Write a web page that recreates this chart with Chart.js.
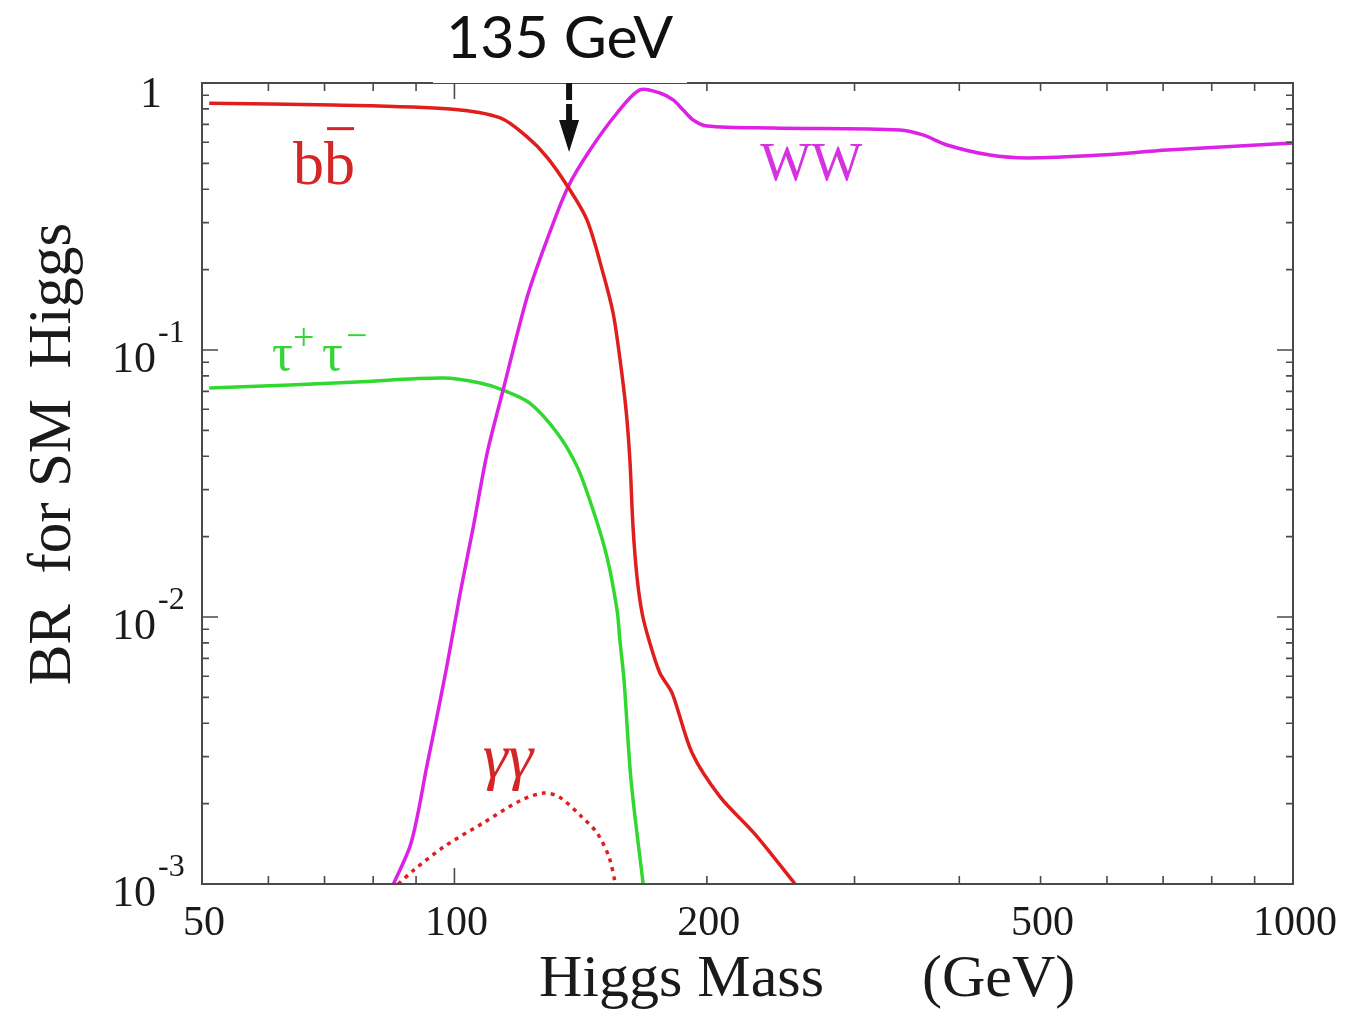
<!DOCTYPE html>
<html>
<head>
<meta charset="utf-8">
<title>BR for SM Higgs</title>
<script src="https://cdn.jsdelivr.net/npm/chart.js@4.4.1/dist/chart.umd.min.js"></script>
<style>
  html, body { margin: 0; padding: 0; background: #fff; }
  canvas { display: block; }
</style>
</head>
<body>
<canvas id="brChart" width="1356" height="1021"></canvas>
<script>
// Higgs mass (GeV) and branching ratio
const bbMass = [51, 71.7, 98.8, 113.4, 122.1, 128.9, 136.6, 143.9, 150.4, 154.6, 157.6, 160.2, 161.9, 163.3, 165.1, 167.4, 170.6, 175.8, 181.8, 192, 207.4, 227.7, 254.8];
const bbBR = [0.84, 0.827, 0.799, 0.74, 0.628, 0.528, 0.408, 0.307, 0.194, 0.1376, 0.0918, 0.0596, 0.0387, 0.0217, 0.0141, 0.01035, 0.0082, 0.00617, 0.00519, 0.0031, 0.00212, 0.00155, 0.001];

const wwMass = [84.6, 88.5, 90.5, 92.5, 94.6, 98.0, 101.6, 105.3, 109.4, 114.3, 122.1, 128.9, 136.6, 145.1, 156.3, 166.4, 175.8, 182.3, 187.4, 192.6, 200.1, 239.8, 340, 362, 386.7, 435, 482, 589, 708, 1000];
const wwBR = [0.001, 0.00138, 0.00185, 0.00267, 0.00377, 0.00661, 0.0123, 0.0217, 0.0411, 0.0708, 0.158, 0.258, 0.408, 0.561, 0.772, 0.942, 0.917, 0.864, 0.792, 0.727, 0.69, 0.678, 0.667, 0.639, 0.586, 0.537, 0.524, 0.537, 0.561, 0.596];

const tauMass = [51, 63.7, 76.5, 97.0, 107.3, 114.3, 123.0, 132.6, 140.1, 146.3, 152.0, 156.3, 157.5, 159.3, 162.4, 167.9];
const tauBR = [0.0721, 0.074, 0.0759, 0.0785, 0.0752, 0.0708, 0.0633, 0.0489, 0.0365, 0.0252, 0.0168, 0.0106, 0.0082, 0.00581, 0.00245, 0.001];

const ggMass = [85.7, 89.5, 97.2, 108.1, 120.1, 127.8, 133.3, 142.0, 148.0, 152.9, 155.6];
const ggBR = [0.001, 0.00113, 0.00138, 0.00169, 0.00206, 0.00219, 0.00212, 0.00178, 0.00155, 0.00126, 0.001];

// axis ticks
const xTicks = [50, 60, 70, 80, 90, 100, 200, 300, 400, 500, 600, 700, 800, 900, 1000];
const xMajor = [100, 1000];
const xTickLabels = [50, 100, 200, 500, 1000];
const yTicks = [
  0.001, 0.002, 0.003, 0.004, 0.005, 0.006, 0.007, 0.008, 0.009,
  0.01, 0.02, 0.03, 0.04, 0.05, 0.06, 0.07, 0.08, 0.09,
  0.1, 0.2, 0.3, 0.4, 0.5, 0.6, 0.7, 0.8, 0.9, 1
];
const yMajor = [0.001, 0.01, 0.1, 1];
const yTickExps = [0, -1, -2, -3];

const markedMass = 137; // where the "135 GeV" arrow sits on the axis

const RED = '#e01e1e';
const MAGENTA = '#dc22e4';
const GREEN = '#30d830';
const SERIF = '"Liberation Serif", "DejaVu Serif", serif';

const toPoints = (xs, ys) => xs.map((m, i) => ({ x: m, y: ys[i] }));

// frame with inward ticks on all four sides
const framePlugin = {
  id: 'frame',
  afterDatasetsDraw(chart) {
    const { ctx, chartArea: a, scales: { x, y } } = chart;
    ctx.save();
    ctx.strokeStyle = '#4a4a4a';
    ctx.lineWidth = 2;
    ctx.strokeRect(a.left, a.top, a.right - a.left, a.bottom - a.top);

    ctx.lineWidth = 1.6;
    ctx.beginPath();
    xTicks.forEach(v => {
      const px = x.getPixelForValue(v);
      const len = xMajor.includes(v) ? 16 : 8;
      ctx.moveTo(px, a.bottom); ctx.lineTo(px, a.bottom - len);
      ctx.moveTo(px, a.top); ctx.lineTo(px, a.top + len);
    });
    yTicks.forEach(v => {
      const py = y.getPixelForValue(v);
      const len = yMajor.includes(v) ? 16 : 7;
      ctx.moveTo(a.left, py); ctx.lineTo(a.left + len, py);
      ctx.moveTo(a.right, py); ctx.lineTo(a.right - len, py);
    });
    ctx.stroke();
    ctx.restore();
  }
};

// tick labels, axis titles, curve labels and the 135 GeV marker
const textPlugin = {
  id: 'texts',
  afterDraw(chart) {
    const { ctx, chartArea: a, scales: { x, y } } = chart;
    ctx.save();
    ctx.fillStyle = '#1a1a1a';
    ctx.textBaseline = 'alphabetic';

    // x tick labels
    ctx.font = '42px ' + SERIF;
    ctx.textAlign = 'center';
    xTickLabels.forEach(v => {
      ctx.fillText(String(v), x.getPixelForValue(v) + 2, a.bottom + 51);
    });

    // y tick labels: 1, 10^-1, 10^-2, 10^-3
    yTickExps.forEach(e => {
      const py = y.getPixelForValue(Math.pow(10, e));
      ctx.font = '44px ' + SERIF;
      ctx.textAlign = 'right';
      if (e === 0) {
        ctx.fillText('1', a.left - 40, py + 24);
        return;
      }
      ctx.fillText('10', a.left - 46, py + 22);
      ctx.font = '32px ' + SERIF;
      ctx.textAlign = 'left';
      ctx.fillText(String(e), a.left - 44, py - 8);
    });

    // axis titles
    ctx.font = '60px ' + SERIF;
    ctx.textAlign = 'left';
    ctx.fillText('Higgs Mass', 539, 996);
    ctx.fillText('(GeV)', 922, 996);

    ctx.save();
    ctx.translate(70, 454);
    ctx.rotate(-Math.PI / 2);
    ctx.textAlign = 'center';
    ctx.font = '61px ' + SERIF;
    ctx.fillText('BR  for SM  Higgs', 0, 0);
    ctx.restore();

    // curve labels
    ctx.textAlign = 'left';
    ctx.fillStyle = '#d42626';
    ctx.font = '62px ' + SERIF;
    const bx = x.getPixelForValue(64.2), by = y.getPixelForValue(0.418);
    ctx.fillText('bb', bx, by);
    const bw = ctx.measureText('b').width;
    ctx.fillRect(bx + bw + 3, by - 57, bw - 4, 3);

    ctx.font = 'italic 64px ' + SERIF;
    ctx.fillText('γγ', x.getPixelForValue(108.1), y.getPixelForValue(0.00252));

    ctx.fillStyle = '#d633e0';
    ctx.font = '54px ' + SERIF;
    ctx.fillText('WW', x.getPixelForValue(231.6), y.getPixelForValue(0.433));

    ctx.fillStyle = '#36d436';
    const tx = x.getPixelForValue(60.6), ty = y.getPixelForValue(0.084);
    ctx.font = '52px ' + SERIF;
    ctx.fillText('τ', tx, ty);
    ctx.fillText('τ', tx + 50, ty);
    ctx.font = '38px ' + SERIF;
    ctx.fillText('+', tx + 21, ty - 20);
    ctx.fillText('−', tx + 74, ty - 22);

    // label box over the top axis
    ctx.fillStyle = '#fff';
    ctx.fillRect(433, 0, 254, a.top);
    ctx.fillStyle = '#111';
    ctx.font = '59px Lato, "Open Sans", sans-serif';
    ctx.fillText('135 GeV', 446, 58);

    // dashed arrow down to the crossing
    const ax = x.getPixelForValue(markedMass);
    ctx.fillRect(ax - 3, a.top, 6, 17);
    ctx.fillRect(ax - 3, a.top + 21, 6, 17);
    ctx.beginPath();
    ctx.moveTo(ax - 10, a.top + 37);
    ctx.lineTo(ax + 10, a.top + 37);
    ctx.lineTo(ax, a.top + 69);
    ctx.closePath();
    ctx.fill();

    ctx.restore();
  }
};

new Chart(document.getElementById('brChart'), {
  type: 'scatter',
  data: {
    datasets: [
      { label: 'bb', data: toPoints(bbMass, bbBR), borderColor: RED, borderWidth: 3.5, showLine: true },
      { label: 'WW', data: toPoints(wwMass, wwBR), borderColor: MAGENTA, borderWidth: 3.5, showLine: true },
      { label: 'tautau', data: toPoints(tauMass, tauBR), borderColor: GREEN, borderWidth: 3.5, showLine: true },
      { label: 'gammagamma', data: toPoints(ggMass, ggBR), borderColor: RED, borderWidth: 3.5, borderDash: [4, 5], showLine: true }
    ]
  },
  options: {
    responsive: false,
    animation: false,
    layout: { padding: { left: 202, right: 63, top: 83, bottom: 137 } },
    elements: {
      point: { radius: 0, hoverRadius: 0 },
      line: { tension: 0.3, fill: false }
    },
    scales: {
      x: { type: 'logarithmic', min: 50, max: 1000, display: false },
      y: { type: 'logarithmic', min: 0.001, max: 1, display: false }
    },
    plugins: {
      legend: { display: false },
      tooltip: { enabled: false }
    }
  },
  plugins: [framePlugin, textPlugin]
});
</script>
</body>
</html>
